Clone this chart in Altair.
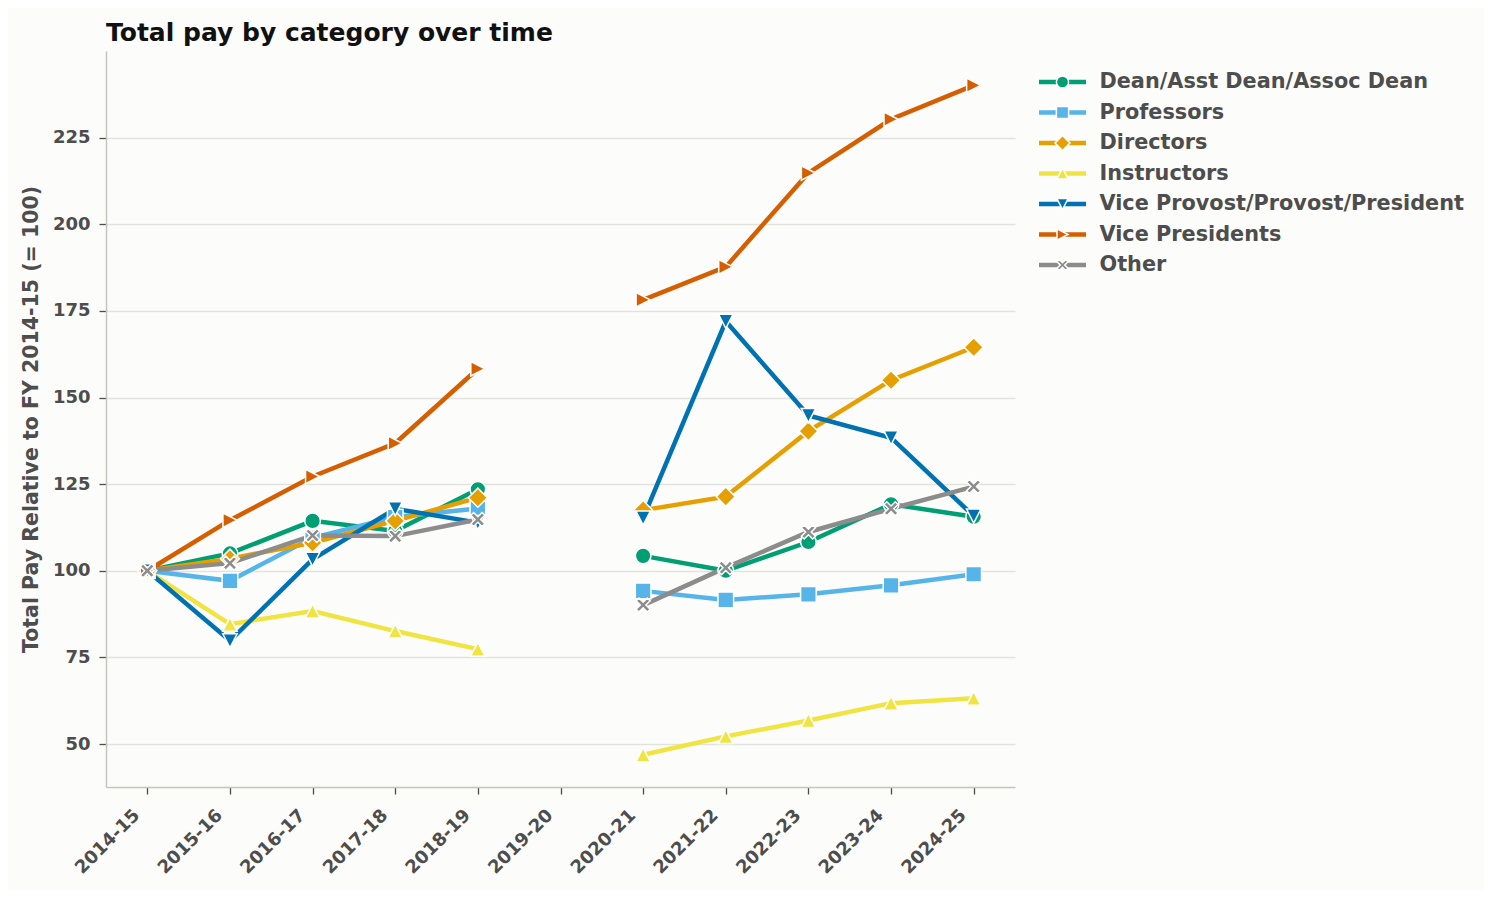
import altair as alt
import pandas as pd

# Fiscal years on the x axis (2019-20 has no data)
years = ["2014-15", "2015-16", "2016-17", "2017-18", "2018-19", "2019-20",
         "2020-21", "2021-22", "2022-23", "2023-24", "2024-25"]

categories = ["Dean/Asst Dean/Assoc Dean", "Professors", "Directors", "Instructors",
              "Vice Provost/Provost/President", "Vice Presidents", "Other"]

dean = [100, 105.0, 114.4, 111.5, 123.5, None, 104.3, 100.0, 108.3, 119.2, 115.6]
professors = [100, 97.1, 109.5, 115.5, 118.0, None, 94.2, 91.6, 93.2, 95.8, 99.0]
directors = [100, 103.5, 108.1, 114.4, 121.1, None, 117.5, 121.4, 140.3, 155.0, 164.5]
instructors = [100, 84.6, 88.4, 82.6, 77.4, None, 46.9, 52.2, 56.8, 61.8, 63.2]
vice_provost = [100, 79.8, 103.3, 117.9, 113.9, None, 115.2, 172.0, 144.8, 138.4, 115.8]
vice_presidents = [100, 114.6, 127.2, 136.8, 158.3, None, 178.2, 187.7, 214.8, 230.3, 240.1]
other = [100, 102.2, 110.2, 110.0, 114.8, None, 90.1, 100.9, 111.2, 117.9, 124.3]

series = [dean, professors, directors, instructors, vice_provost, vice_presidents, other]

y_ticks = [50, 75, 100, 125, 150, 175, 200, 225]

COLORS = ["#009E73", "#56B4E9", "#E69F00", "#F0E442", "#0072B2", "#D55E00", "#8c8c8c"]

# marker outlines in Vega's unit box (closer to matplotlib's marker sizes)
DIAMOND = "M0,-1.22L1.22,0L0,1.22L-1.22,0Z"
TRI_UP = "M0,-0.9L0.92,0.9L-0.92,0.9Z"
TRI_DOWN = "M0,0.9L0.92,-0.9L-0.92,-0.9Z"
TRI_RIGHT = "M0.9,0L-0.9,-0.92L-0.9,0.92Z"
X_PATH = ("M-0.9,-0.54L-0.54,-0.9L0,-0.36L0.54,-0.9L0.9,-0.54L0.36,0L0.9,0.54"
          "L0.54,0.9L0,0.36L-0.54,0.9L-0.9,0.54L-0.36,0Z")
SHAPES = ["circle", "square", DIAMOND, TRI_UP, TRI_DOWN, TRI_RIGHT, X_PATH]
TEXT = "#4d4d4d"

# long table; 'segment' breaks each line at the missing year
rows = []
for cat, values in zip(categories, series):
    gap = 0
    for yr, v in zip(years, values):
        if v is None:
            gap += 1
            continue
        rows.append({"year": yr, "category": cat, "value": v, "segment": gap})
df = pd.DataFrame(rows)

color_scale = alt.Scale(domain=categories, range=COLORS)
shape_scale = alt.Scale(domain=categories, range=SHAPES)

base = alt.Chart(df).encode(
    x=alt.X("year:O", scale=alt.Scale(domain=years),
            axis=alt.Axis(title=None, labelAngle=315, labelPadding=12, labelOffset=-17,
                          grid=False)),
    y=alt.Y("value:Q", scale=alt.Scale(domain=[37.6, 250], nice=False, zero=False),
            axis=alt.Axis(values=y_ticks, grid=True,
                          title="Total Pay Relative to FY 2014-15 (= 100)",
                          titleFontSize=20.5, titlePadding=11)),
    color=alt.Color("category:N", scale=color_scale, legend=None),
)

lines = base.mark_line(strokeWidth=4.5).encode(detail="segment:N")
points = base.mark_point(filled=True, size=245, stroke="white", strokeWidth=1.5,
                         opacity=1).encode(
    shape=alt.Shape("category:N", scale=shape_scale, legend=None)
)

main = (lines + points).properties(
    width=909, height=736,
    title=alt.TitleParams("Total pay by category over time", anchor="start", frame="group",
                          fontSize=25, fontWeight="bold", color="#111111", offset=5),
)

# hand-made legend: line segment with marker, labels on a right axis
leg = alt.Chart(pd.DataFrame({"category": categories})).encode(
    y=alt.Y("category:N", scale=alt.Scale(domain=categories, range=[15.75, 229.25]),
            axis=alt.Axis(orient="right", title=None, domain=False, ticks=False, grid=False,
                          labelFontSize=20.8, labelPadding=13, labelLimit=0)),
    color=alt.Color("category:N", scale=color_scale, legend=None),
)
leg_lines = leg.mark_rule(strokeWidth=4.5).encode(x=alt.value(0), x2=alt.value(47))
leg_points = leg.mark_point(filled=True, size=150, stroke="white", strokeWidth=1.5,
                            opacity=1).encode(
    x=alt.value(23.5),
    shape=alt.Shape("category:N", scale=shape_scale, legend=None),
)
legend = (leg_lines + leg_points).properties(width=47, height=240)

chart = alt.hconcat(main, legend, spacing=20).configure(
    font="DejaVu Sans",
    background="#fcfcfa",
    padding={"left": 12, "top": 12, "right": 20, "bottom": 12},
).configure_view(
    stroke="transparent"
).configure_axis(
    labelFont="DejaVu Sans", labelFontSize=18, labelFontWeight="bold", labelColor=TEXT,
    titleFont="DejaVu Sans", titleFontWeight="bold", titleColor=TEXT,
    domainColor="#c5c5bc", domainWidth=1.5,
    tickColor=TEXT, tickSize=7, tickWidth=1.3, labelPadding=9,
    gridColor="#e3e3dd", gridWidth=1.5,
)

chart.save("out.html", embed_options={"renderer": "svg", "actions": False})
